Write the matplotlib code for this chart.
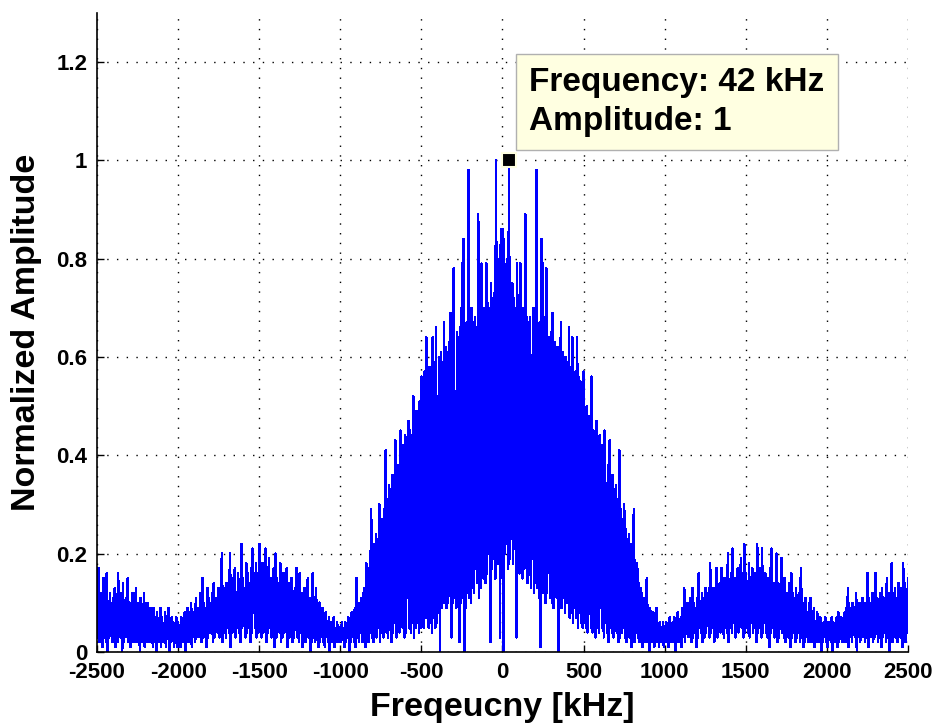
import numpy as np
import matplotlib
matplotlib.use("Agg")
import matplotlib.pyplot as plt

# spectrum, amplitude in hundredths.
# peaks sit every 10 kHz (-2500 ... 2500), valleys halfway between them.

# left tail, -2500 .. -2010
tail_l_peaks = [
    10, 17, 12, 9, 15, 11, 16, 10, 12, 8,
    11, 13, 9, 16, 10, 12, 14, 9, 11, 15,
    10, 8, 12, 9, 13, 10, 8, 11, 9, 12,
    7, 10, 8, 9, 6, 9, 7, 8, 6, 9,
    7, 5, 8, 6, 9, 5, 7, 6, 5, 7,
]
tail_l_valleys = [
    3, 2, 4, 1, 3, 2, 0, 3, 4, 2,
    3, 1, 2, 4, 3, 0, 2, 3, 5, 2,
    1, 3, 2, 4, 2, 3, 0, 2, 3, 1,
    2, 4, 2, 3, 1, 2, 0, 3, 2, 1,
    3, 2, 1, 3, 0, 2, 3, 1, 2, 1,
]

# left side lobe, -2000 .. -1010
lobe_l_peaks = [
    6, 5, 7, 6, 8, 6, 9, 7, 10, 8,
    7, 11, 9, 8, 12, 15, 10, 9, 13, 11,
    10, 12, 14, 11, 9, 13, 12, 20, 13, 11,
    14, 12, 20, 13, 15, 17, 12, 16, 14, 22,
    15, 13, 18, 16, 14, 17, 21, 15, 18, 16,
    22, 16, 18, 14, 21, 17, 19, 15, 13, 17,
    20, 15, 14, 18, 13, 16, 12, 17, 14, 11,
    15, 12, 13, 17, 11, 16, 12, 10, 13, 9,
    15, 11, 10, 16, 9, 13, 8, 10, 7, 9,
    6, 8, 5, 7, 6, 5, 7, 4, 6, 5,
]
lobe_l_valleys = [
    2, 1, 3, 2, 0, 3, 2, 4, 1, 3,
    2, 4, 3, 5, 2, 3, 4, 1, 3, 5,
    4, 2, 3, 6, 4, 3, 5, 2, 4, 3,
    5, 4, 1, 4, 6, 3, 5, 4, 2, 5,
    7, 3, 4, 5, 2, 4, 8, 5, 3, 4,
    5, 3, 4, 6, 2, 4, 5, 3, 4, 1,
    3, 5, 4, 2, 3, 4, 5, 1, 3, 4,
    2, 3, 5, 3, 2, 4, 1, 3, 2, 4,
    3, 0, 2, 3, 2, 4, 1, 2, 3, 2,
    1, 3, 2, 0, 2, 3, 1, 2, 3, 2,
]

# main lobe, -1000 .. 990
main_peaks = [
    5, 6, 4, 6, 5, 7, 6, 8, 7, 9,
    15, 8, 10, 11, 12, 13, 18, 14, 17, 29,
    20, 22, 24, 23, 30, 25, 27, 29, 41, 31,
    34, 33, 36, 35, 43, 22, 38, 45, 40, 42,
    44, 36, 47, 45, 44, 52, 47, 49, 31, 51,
    56, 54, 57, 64, 44, 58, 57, 64, 59, 66,
    37, 60, 61, 59, 67, 62, 61, 63, 69, 64,
    78, 53, 65, 64, 66, 79, 84, 58, 67, 98,
    66, 70, 67, 68, 66, 89, 69, 79, 68, 70,
    79, 71, 70, 75, 72, 73, 100, 66, 80, 86,
    86, 84, 66, 80, 100, 73, 75, 72, 70, 79,
    71, 79, 69, 70, 89, 68, 67, 68, 59, 70,
    67, 98, 66, 67, 84, 79, 57, 78, 53, 64,
    65, 69, 63, 61, 62, 60, 67, 61, 37, 60,
    59, 66, 58, 64, 44, 57, 64, 56, 55, 54,
    57, 31, 50, 48, 47, 56, 45, 44, 47, 36,
    44, 42, 40, 45, 22, 38, 43, 35, 36, 33,
    34, 31, 41, 29, 27, 30, 25, 23, 24, 22,
    20, 29, 17, 18, 14, 13, 12, 11, 10, 15,
    8, 9, 7, 8, 6, 9, 5, 6, 4, 6,
]
main_valleys = [
    2, 3, 1, 2, 3, 0, 2, 3, 2, 1,
    3, 2, 4, 2, 3, 1, 3, 2, 4, 3,
    2, 4, 3, 5, 2, 4, 3, 11, 4, 3,
    5, 2, 4, 6, 3, 5, 4, 9, 5, 3,
    4, 11, 5, 4, 6, 3, 5, 6, 4, 5,
    6, 5, 7, 19, 5, 6, 4, 7, 5, 6,
    8, 0, 9, 10, 11, 9, 10, 12, 3, 10,
    11, 9, 12, 2, 10, 11, 0, 9, 12, 11,
    10, 13, 12, 18, 14, 11, 13, 18, 15, 14,
    16, 20, 2, 17, 19, 15, 22, 18, 3, 23,
    0, 20, 22, 17, 19, 23, 18, 21, 3, 19,
    16, 20, 15, 17, 21, 14, 16, 13, 19, 12,
    14, 13, 11, 1, 12, 13, 10, 12, 17, 11,
    10, 9, 12, 11, 0, 10, 9, 11, 8, 10,
    18, 7, 8, 6, 9, 7, 5, 8, 6, 5,
    6, 5, 4, 11, 5, 4, 6, 3, 5, 4,
    9, 5, 3, 6, 4, 2, 5, 4, 3, 5,
    4, 2, 3, 4, 5, 3, 2, 4, 3, 1,
    3, 2, 4, 3, 2, 3, 1, 2, 3, 2,
    0, 3, 2, 1, 3, 2, 1, 2, 3, 1,
]

# right side lobe, 1000 .. 1990
lobe_r_peaks = [
    5, 6, 4, 7, 5, 6, 7, 5, 8, 6,
    7, 9, 13, 8, 10, 9, 11, 13, 10, 9,
    11, 16, 10, 12, 11, 13, 12, 10, 18, 12,
    13, 11, 17, 13, 14, 17, 12, 15, 13, 20,
    14, 16, 21, 15, 13, 17, 15, 19, 16, 22,
    16, 14, 18, 15, 17, 14, 16, 22, 15, 17,
    21, 14, 16, 13, 15, 17, 21, 14, 13, 20,
    14, 12, 19, 13, 15, 12, 11, 14, 16, 12,
    11, 13, 10, 12, 17, 10, 9, 11, 8, 10,
    11, 7, 9, 6, 8, 6, 7, 5, 6, 7,
]
lobe_r_valleys = [
    2, 3, 1, 2, 3, 2, 0, 3, 2, 4,
    1, 3, 2, 4, 3, 5, 2, 3, 4, 1,
    3, 5, 4, 2, 3, 4, 6, 3, 4, 5,
    2, 4, 3, 5, 4, 7, 3, 5, 4, 2,
    5, 4, 6, 3, 5, 4, 8, 5, 3, 4,
    5, 4, 3, 6, 4, 5, 2, 4, 5, 3,
    4, 6, 4, 3, 1, 4, 5, 3, 4, 2,
    3, 5, 4, 3, 2, 4, 3, 1, 3, 4,
    2, 3, 4, 2, 3, 1, 2, 3, 2, 4,
    2, 3, 1, 2, 3, 2, 0, 2, 3, 2,
]

# right tail, 2000 .. 2500
tail_r_peaks = [
    5, 6, 5, 7, 6, 5, 7, 8, 6, 7,
    6, 8, 9, 13, 8, 9, 10, 8, 12, 9,
    10, 8, 11, 9, 10, 16, 11, 9, 12, 10,
    16, 11, 10, 12, 13, 11, 10, 15, 12, 11,
    18, 12, 13, 11, 14, 12, 13, 18, 14, 12,
    15,
]
tail_r_valleys = [
    1, 3, 2, 0, 2, 3, 1, 2, 3, 2,
    4, 2, 3, 1, 3, 2, 4, 3, 0, 3,
    2, 4, 3, 2, 3, 1, 4, 3, 2, 3,
    4, 2, 3, 1, 3, 4, 2, 3, 0, 3,
    2, 4, 3, 2, 4, 3, 1, 3, 2, 4,
]

tip_freq = 42
tip_amp = 1

xticks = [-2500, -2000, -1500, -1000, -500, 0, 500, 1000, 1500, 2000, 2500]
yticks = [0, 0.2, 0.4, 0.6, 0.8, 1, 1.2]

plt.rcParams["font.family"] = ["Liberation Sans", "DejaVu Sans"]
plt.rcParams["font.weight"] = "bold"
plt.rcParams["axes.unicode_minus"] = False
plt.rcParams["lines.scale_dashes"] = False

peaks = tail_l_peaks + lobe_l_peaks + main_peaks + lobe_r_peaks + tail_r_peaks
valleys = tail_l_valleys + lobe_l_valleys + main_valleys + lobe_r_valleys + tail_r_valleys

freq = np.arange(-2500, 2500.1, 5)
amp = np.empty(len(freq))
amp[0::2] = np.array(peaks) / 100
amp[1::2] = np.array(valleys) / 100

fig = plt.figure(figsize=(9.38, 7.27), dpi=100)
ax = fig.add_axes([0.1034, 0.1032, 0.8646, 0.8789])

# MATLAB draws the trace without smoothing, so do the same
ax.plot(freq, amp, color="#0000ff", lw=1.2, antialiased=False)
ax.plot([tip_freq], [tip_amp], "s", color="black", ms=10,
        mec="#ffffe1", mew=1.5, zorder=5)

ax.text(0.533, 0.915, f"Frequency: {tip_freq} kHz\nAmplitude: {tip_amp}",
        transform=ax.transAxes, fontsize=24, fontweight="bold",
        va="top", ha="left", linespacing=1.3, zorder=6,
        bbox=dict(boxstyle="square,pad=0.4", fc="#ffffe1", ec="#b0b0b0", lw=1))

ax.set_xlim(-2500, 2500)
ax.set_ylim(0, 1.3)
ax.set_xticks(xticks)
ax.set_yticks(yticks)
ax.set_xticklabels([str(t) for t in xticks])
ax.set_yticklabels(["%g" % t for t in yticks])
ax.tick_params(direction="in", length=5, width=1, labelsize=16, pad=7)

ax.grid(True, color="black", linestyle=(0, (1, 6)), lw=1)
ax.set_axisbelow(True)

for s in ["top", "right"]:
    ax.spines[s].set_visible(False)
for s in ["left", "bottom"]:
    ax.spines[s].set_linewidth(1.2)

ax.set_xlabel("Freqeucny [kHz]", fontsize=24.5, fontweight="bold")
ax.set_ylabel("Normalized Amplitude", fontsize=24.5, fontweight="bold")
ax.xaxis.set_label_coords(0.5, -0.062)
ax.yaxis.set_label_coords(-0.068, 0.5)

fig.savefig("out.png", dpi=100, facecolor="white")
